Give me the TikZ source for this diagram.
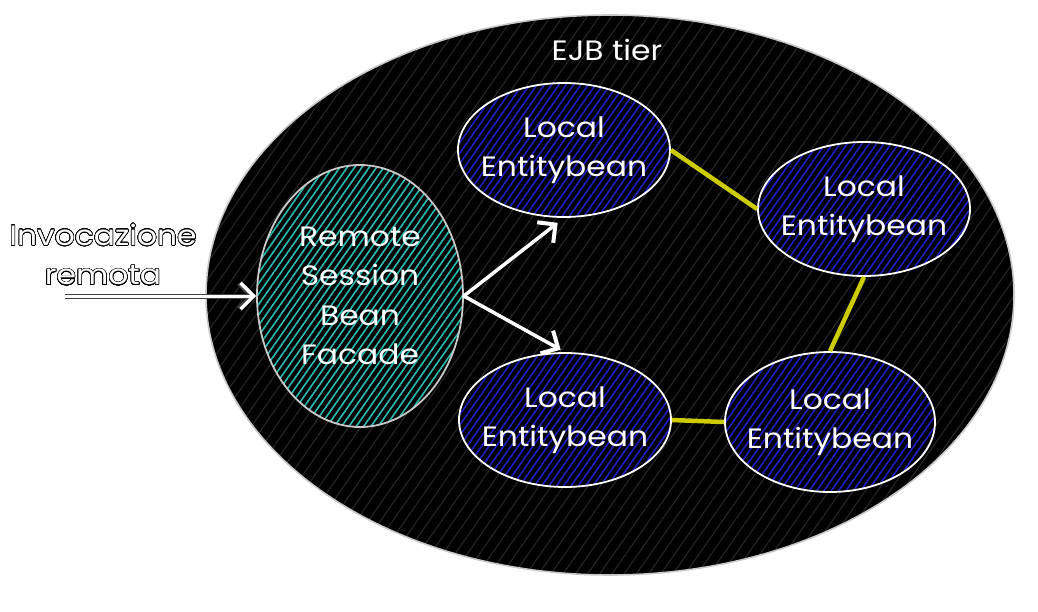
\documentclass[tikz,border=0pt]{standalone}
\usepackage{fontspec}
\setmainfont[FakeStretch=1.12]{Poppins}
\usepackage{contour}
\contourlength{0.6pt}
\contournumber{32}
\usetikzlibrary{shapes.geometric,patterns.meta,arrows.meta}
\definecolor{hatchteal}{RGB}{40,190,180}
\definecolor{hatchblue}{RGB}{30,30,200}
\definecolor{hatchgray}{RGB}{42,42,42}
\definecolor{linkyellow}{RGB}{204,204,0}
\definecolor{rimgray}{RGB}{200,200,200}
\begin{document}
\begin{tikzpicture}[x=1pt,y=-1pt,
  handfont/.style={font=\fontsize{28}{39.5}\selectfont},
  tierbox/.style={ellipse, inner sep=0pt, draw=rimgray, line width=1.6pt,
    preaction={fill=black},
    pattern={Lines[angle=55,distance=10pt,line width=1pt]}, pattern color=hatchgray},
  facadebox/.style={ellipse, inner sep=0pt, draw=rimgray, line width=1.8pt,
    minimum width=206pt, minimum height=262pt,
    preaction={fill=black},
    pattern={Lines[angle=55,distance=6pt,line width=1.6pt]}, pattern color=hatchteal,
    text=white, align=center, handfont},
  entitybox/.style={ellipse, inner sep=-16pt, draw=white, line width=1.8pt,
    minimum width=212pt, minimum height=134pt,
    preaction={fill=black},
    pattern={Lines[angle=55,distance=6pt,line width=1.6pt]}, pattern color=hatchblue,
    text=white, align=center, handfont},
  link/.style={draw=linkyellow, line width=4.5pt},
  flow/.style={draw=white, line width=3.5pt, line cap=round,
    -{Straight Barb[length=13pt,width=26pt,line width=4pt]}},
  inflow/.style={draw=white, line width=3pt, line cap=round,
    preaction={draw=black!75, line width=5pt, -{Straight Barb[length=13pt,width=26pt,line width=5.5pt]}},
    -{Straight Barb[length=13pt,width=26pt,line width=3.5pt]}}
]
\useasboundingbox (0,0) rectangle (1038,611);
\fill[white] (0,0) rectangle (1038,611);

\node[tierbox, minimum width=808pt, minimum height=560pt] (tier) at (610,295) {};
\node[text=white, handfont] (tierlabel) at (607,50) {EJB tier};

\node[facadebox] (fac) at (360,296) {Remote\\Session\\Bean\\Facade};
\node[entitybox] (tl) at (564,150) {Local\\Entitybean};
\node[entitybox] (tr) at (864,209) {Local\\Entitybean};
\node[entitybox] (bl) at (565,420) {Local\\Entitybean};
\node[entitybox, minimum width=210pt, minimum height=140pt] (br) at (830,422) {Local\\Entitybean};

\draw[link] (tl.east) -- (tr.west);
\draw[link] (tr.south) -- (br.north);
\draw[link] (bl.east) -- (br.west);

\draw[flow, shorten >=8pt] (fac.east) -- (tl.south);
\draw[flow, shorten >=5pt] (fac.east) -- (bl.north);

\node[handfont, align=center] (inv) at (103,255)
  {\contour{black}{\textcolor{white}{Invocazione}}\\\contour{black}{\textcolor{white}{remota}}};
\coordinate (invstart) at (65,296);
\draw[inflow] (invstart) -- (fac.west);
\end{tikzpicture}
\end{document}
